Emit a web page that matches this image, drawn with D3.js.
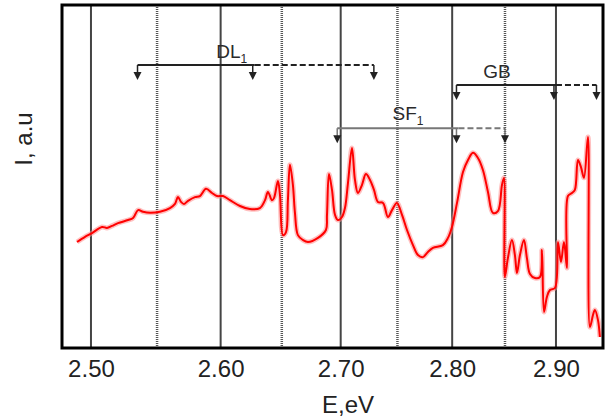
<!DOCTYPE html>
<html>
<head>
<meta charset="utf-8">
<script src="https://cdn.jsdelivr.net/npm/d3@7/dist/d3.min.js"></script>
<style>
  html, body { margin: 0; padding: 0; background: #fff; }
  svg { display: block; font-family: "Liberation Sans", Arial, sans-serif; }
</style>
</head>
<body>
<svg id="chart" width="606" height="418"></svg>
<script>
// ---- data ----
const energy = [2.4897,2.4956,2.5008,2.5082,2.5119,2.5157,2.5202,2.5278,2.5316,2.5354,2.5392,2.5445,2.5522,2.5600,2.5639,2.5662,2.5686,2.5709,2.5741,2.5796,2.5835,2.5883,2.5931,2.5971,2.6019,2.6075,2.6156,2.6237,2.6319,2.6361,2.6385,2.6418,2.6435,2.6468,2.6485,2.6510,2.6535,2.6551,2.6568,2.6593,2.6610,2.6635,2.6677,2.6720,2.6805,2.6873,2.6882,2.6899,2.6925,2.6951,2.6976,2.7011,2.7037,2.7063,2.7098,2.7124,2.7150,2.7185,2.7220,2.7256,2.7291,2.7326,2.7371,2.7415,2.7451,2.7495,2.7541,2.7586,2.7640,2.7685,2.7731,2.7776,2.7822,2.7914,2.7961,2.7998,2.8045,2.8101,2.8148,2.8195,2.8242,2.8289,2.8337,2.8384,2.8432,2.8471,2.8490,2.8499,2.8528,2.8567,2.8596,2.8616,2.8645,2.8684,2.8713,2.8743,2.8792,2.8841,2.8861,2.8881,2.8910,2.8940,2.8990,2.9020,2.9050,2.9080,2.9110,2.9120,2.9160,2.9190,2.9221,2.9251,2.9282,2.9323,2.9343,2.9374,2.9394,2.9425,2.9445];
const intensity = [30.9,32.4,33.5,35.3,35.0,35.6,36.4,37.3,37.9,40.2,39.7,39.4,39.7,40.8,42.0,44.0,42.6,42.0,42.9,44.0,44.3,46.4,45.2,44.3,44.3,43.1,41.4,40.5,40.8,43.1,45.5,43.1,43.7,48.7,44.6,32.9,33.8,43.1,53.4,47.5,39.4,32.9,31.5,30.9,32.1,34.4,38.8,50.7,46.1,38.8,37.3,38.2,40.8,48.1,58.3,49.0,45.2,47.5,50.7,49.0,46.1,42.6,42.3,38.2,40.2,42.3,38.8,34.4,30.0,27.1,26.5,28.0,29.2,30.0,32.1,35.3,42.3,51.3,54.8,56.9,55.4,51.9,45.5,39.4,39.9,47.5,49.6,20.7,26.2,31.5,27.1,21.9,27.1,31.5,26.2,21.6,20.4,20.7,28.6,10.5,14.9,16.9,17.5,30.9,25.1,30.9,23.3,44.3,45.2,46.1,54.8,52.8,49.6,61.5,6.1,9.6,11.1,8.2,3.2];

const majorTicks = [2.50, 2.60, 2.70, 2.80, 2.90];
const minorTicks = [2.55, 2.65, 2.75, 2.85];
const xDomain = [2.4787, 2.9477];
const yDomain = [0, 100];

// annotation brackets: [first arrow, second arrow, dashed end arrow] in eV
const annLabels = ["DL", "SF", "GB"];
const annSubs = ["1", "1", ""];
const annArrows = [[2.535, 2.626, 2.729], [2.697, 2.804, 2.850], [2.804, 2.898, 2.941]];
const annLevels = [82.5, 64.1, 76.7];
const annLabelE = [2.609, 2.7595, 2.8424];
const annLabelLevel = [84.5, 66.5, 78.8];

const xLabel = "E,eV";
const yLabel = "I, a.u";

// ---- drawing ----
const svg = d3.select("#chart");
const L = 62, R = 603, T = 5, B = 348;

// E axis is linear in wavelength (1/E): pow scale with exponent -1
const x = d3.scalePow().exponent(-1).domain(xDomain).range([L, R]);
const y = d3.scaleLinear().domain(yDomain).range([B, T]);

// gridlines
svg.append("g").selectAll("line").data(majorTicks).join("line")
  .attr("x1", d => x(d)).attr("x2", d => x(d))
  .attr("y1", T).attr("y2", B)
  .attr("stroke", "#444").attr("stroke-width", 2);
svg.append("g").selectAll("line").data(minorTicks).join("line")
  .attr("x1", d => x(d)).attr("x2", d => x(d))
  .attr("y1", T).attr("y2", B)
  .attr("stroke", "#555").attr("stroke-width", 2.5).attr("stroke-dasharray", "1,1");

// annotation brackets
const annColors = ["#222", "#777", "#222"];
annArrows.forEach((arr, i) => {
  const g = svg.append("g");
  const yy = y(annLevels[i]);
  const c = annColors[i];
  g.append("line").attr("x1", x(arr[0])).attr("x2", x(arr[1]) + 2)
    .attr("y1", yy).attr("y2", yy).attr("stroke", c).attr("stroke-width", 2);
  g.append("line").attr("x1", x(arr[1]) + 2).attr("x2", x(arr[2]))
    .attr("y1", yy).attr("y2", yy).attr("stroke", c).attr("stroke-width", 2)
    .attr("stroke-dasharray", "6,3");
  arr.forEach(e => {
    const ax = x(e);
    g.append("line").attr("x1", ax).attr("x2", ax).attr("y1", yy).attr("y2", yy + 8)
      .attr("stroke", c).attr("stroke-width", 1.5);
    g.append("path")
      .attr("d", `M${ax - 4},${yy + 7} L${ax + 4},${yy + 7} L${ax},${yy + 15} Z`)
      .attr("fill", "#222");
  });
  const t = g.append("text")
    .attr("x", x(annLabelE[i])).attr("y", y(annLabelLevel[i]))
    .attr("text-anchor", "middle")
    .attr("fill", "#2a2a2a").attr("font-size", 19);
  t.append("tspan").text(annLabels[i]);
  if (annSubs[i]) t.append("tspan").attr("font-size", 12).attr("dy", 5).text(annSubs[i]);
});

// spectrum
const pts = energy.map((e, i) => [e, intensity[i]]);
const line = d3.line().x(d => x(d[0])).y(d => y(d[1])).curve(d3.curveCatmullRom.alpha(0.5));
svg.append("path").datum(pts).attr("d", line)
  .attr("fill", "none").attr("stroke", "#ff8c8c").attr("stroke-opacity", 0.55)
  .attr("stroke-width", 5).attr("stroke-linejoin", "round");
svg.append("path").datum(pts).attr("d", line)
  .attr("fill", "none").attr("stroke", "#ff0000")
  .attr("stroke-width", 2).attr("stroke-linejoin", "round");

// frame
svg.append("rect").attr("x", L).attr("y", T).attr("width", R - L).attr("height", B - T)
  .attr("fill", "none").attr("stroke", "#000").attr("stroke-width", 3);

// x axis labels
const ax = svg.append("g").attr("transform", `translate(0,${B})`)
  .call(d3.axisBottom(x).tickValues(majorTicks).tickFormat(d3.format(".2f")).tickSize(0).tickPadding(12));
ax.select(".domain").remove();
ax.selectAll("text").attr("font-size", 24).attr("fill", "#222")
  .attr("font-family", "'Liberation Sans', Arial, sans-serif");

svg.append("text").attr("x", 348).attr("y", 413).attr("text-anchor", "middle")
  .attr("font-size", 24).attr("fill", "#222").text(xLabel);
svg.append("text").attr("transform", "translate(32,139) rotate(-90)")
  .attr("text-anchor", "middle").attr("font-size", 24).attr("fill", "#222").text(yLabel);
</script>
</body>
</html>
